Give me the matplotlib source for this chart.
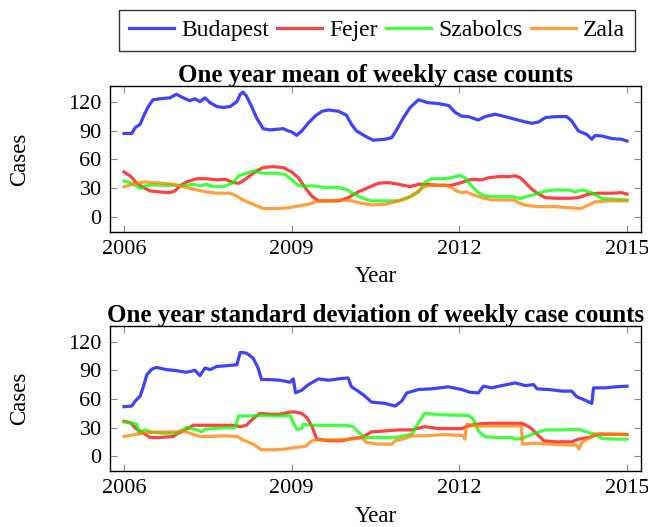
import matplotlib
matplotlib.use("Agg")
import matplotlib.pyplot as plt

plt.rcParams["font.family"] = ["Liberation Serif", "DejaVu Serif"]

regions = ["Budapest", "Fejer", "Szabolcs", "Zala"]
colors = ["#0000ff", "#ff0000", "#00ff00", "#ff8000"]

# one year mean
mean_bud_t = [2006.0, 2006.14, 2006.2, 2006.29, 2006.35, 2006.44, 2006.52, 2006.64, 2006.82, 2006.94,
              2007.06, 2007.18, 2007.27, 2007.36, 2007.45, 2007.54, 2007.66, 2007.78, 2007.90, 2008.02,
              2008.08, 2008.13, 2008.19, 2008.28, 2008.37, 2008.49, 2008.61, 2008.85, 2008.94, 2009.0,
              2009.09, 2009.18, 2009.30, 2009.42, 2009.54, 2009.66, 2009.84, 2009.98, 2010.07, 2010.16,
              2010.31, 2010.46, 2010.67, 2010.79, 2010.88, 2011.0, 2011.12, 2011.27, 2011.44, 2011.63,
              2011.81, 2011.93, 2012.04, 2012.16, 2012.34, 2012.46, 2012.64, 2012.82, 2013.0, 2013.18,
              2013.30, 2013.42, 2013.54, 2013.72, 2013.92, 2014.01, 2014.13, 2014.28, 2014.37, 2014.43,
              2014.55, 2014.73, 2014.90, 2015.0]
mean_bud_v = [87, 87, 93, 96.5, 105, 115.5, 122, 123, 124, 127.7,
              124, 121, 123, 120, 124, 119, 115, 114, 115, 120,
              127.7, 130, 126, 115.5, 103.5, 92, 90.7, 92, 89.6, 88.6,
              85, 89.6, 98, 105, 110, 111.4, 110, 106, 96.5, 89.6,
              84.4, 80, 81, 82.7, 91, 103.5, 114, 122, 119, 118,
              116, 108.7, 105, 104.5, 101, 104.5, 107, 104.5, 101.7, 99,
              97.6, 99, 103.5, 104.5, 104.5, 100, 89.6, 86, 81, 85,
              84.4, 81.7, 81, 79.2]

mean_fej_t = [2006.0, 2006.11, 2006.23, 2006.35, 2006.47, 2006.64, 2006.82, 2006.91, 2007.0, 2007.12,
              2007.30, 2007.48, 2007.66, 2007.81, 2007.96, 2008.05, 2008.13, 2008.25, 2008.37, 2008.49,
              2008.67, 2008.85, 2009.0, 2009.12, 2009.24, 2009.36, 2009.48, 2009.66, 2009.84, 2010.01,
              2010.19, 2010.37, 2010.55, 2010.73, 2010.91, 2011.12, 2011.27, 2011.44, 2011.63, 2011.86,
              2012.04, 2012.16, 2012.28, 2012.40, 2012.52, 2012.70, 2012.88, 2013.0, 2013.09, 2013.18,
              2013.30, 2013.42, 2013.54, 2013.72, 2013.96, 2014.13, 2014.31, 2014.49, 2014.73, 2014.90,
              2015.0]
mean_fej_v = [47, 43, 35.3, 30.8, 27.3, 26.3, 25.6, 27.3, 32.5, 36.7,
              40, 40, 38.8, 39.4, 36, 35.3, 37.7, 43, 48, 51.6,
              52.6, 51.6, 47, 41, 30.8, 22, 17, 17, 17, 20.4,
              26.3, 30.8, 35.3, 36, 34.3, 31.8, 34.3, 34, 33.2, 33.2,
              36, 38.8, 39.4, 38.8, 41, 42.2, 42.2, 43, 41, 36,
              29, 24, 20.4, 19.7, 19.7, 20.4, 24, 25, 25, 25.6,
              24]

mean_sza_t = [2006.0, 2006.11, 2006.23, 2006.29, 2006.38, 2006.52, 2006.70, 2006.94, 2007.12, 2007.24,
              2007.36, 2007.48, 2007.60, 2007.78, 2007.96, 2008.05, 2008.19, 2008.31, 2008.49, 2008.73,
              2008.88, 2009.0, 2009.12, 2009.24, 2009.42, 2009.60, 2009.84, 2009.98, 2010.07, 2010.25,
              2010.43, 2010.67, 2010.91, 2011.15, 2011.27, 2011.38, 2011.50, 2011.69, 2011.86, 2012.01,
              2012.10, 2012.22, 2012.34, 2012.46, 2012.70, 2012.94, 2013.09, 2013.24, 2013.42, 2013.54,
              2013.72, 2013.96, 2014.07, 2014.19, 2014.37, 2014.55, 2014.79, 2015.0]
mean_sza_v = [37.7, 36, 32.5, 29.8, 32.5, 33.6, 33.2, 33.2, 33.2, 34.3,
              32.5, 34.3, 31.8, 31.8, 36, 43, 45.7, 48, 45.7, 45.7,
              44.6, 38.8, 33.2, 32.5, 32.5, 30.8, 30.8, 29, 25.6, 20.4,
              17, 17, 17, 22, 26.3, 36, 40, 40, 41, 43.6,
              41, 32.5, 25.6, 22, 21.5, 21.5, 19.4, 22, 25, 27.3,
              28.4, 28.4, 26.3, 28.4, 25.6, 19.4, 18.7, 18]

mean_zal_t = [2006.0, 2006.17, 2006.35, 2006.52, 2006.70, 2006.88, 2007.0, 2007.12, 2007.30, 2007.48,
              2007.66, 2007.90, 2008.02, 2008.13, 2008.31, 2008.49, 2008.73, 2008.97, 2009.12, 2009.30,
              2009.48, 2009.66, 2009.90, 2010.07, 2010.25, 2010.43, 2010.67, 2010.91, 2011.09, 2011.27,
              2011.38, 2011.50, 2011.74, 2011.86, 2011.95, 2012.04, 2012.13, 2012.22, 2012.40, 2012.58,
              2012.82, 2012.97, 2013.06, 2013.18, 2013.42, 2013.72, 2013.96, 2014.17, 2014.28, 2014.43,
              2014.67, 2015.0]
mean_zal_v = [31.8, 34.3, 36.7, 36, 35.3, 34.3, 32.5, 30.8, 28.4, 26.3,
              25, 25, 22, 18, 13.5, 9, 9, 10, 11.8, 13.5,
              17, 17, 18, 17, 14.5, 12.8, 13.5, 17, 20.4, 27.3,
              31.8, 33.2, 33.2, 30.8, 27.3, 25.6, 26.3, 24, 20.4, 18,
              18, 18, 15.2, 12.5, 11, 11, 10, 9, 11.8, 16,
              17, 17]

# one year standard deviation
std_bud_t = [2006.0, 2006.14, 2006.2, 2006.29, 2006.35, 2006.41, 2006.50, 2006.58, 2006.76, 2006.94,
             2007.12, 2007.27, 2007.36, 2007.45, 2007.54, 2007.66, 2007.84, 2008.02, 2008.08, 2008.19,
             2008.31, 2008.40, 2008.46, 2008.61, 2008.79, 2008.97, 2009.03, 2009.07, 2009.18, 2009.30,
             2009.48, 2009.66, 2009.84, 2010.01, 2010.07, 2010.19, 2010.31, 2010.43, 2010.67, 2010.85,
             2010.97, 2011.06, 2011.27, 2011.50, 2011.80, 2012.04, 2012.19, 2012.34, 2012.43, 2012.58,
             2012.76, 2013.0, 2013.18, 2013.33, 2013.39, 2013.60, 2013.84, 2014.01, 2014.10, 2014.25,
             2014.37, 2014.40, 2014.61, 2014.79, 2015.0]
std_bud_v = [52, 52.6, 57.8, 63, 73.4, 85.5, 91.3, 93, 90.7, 89.6,
             87.9, 90, 84.4, 92.4, 90.7, 94, 94.8, 95.8, 108.7, 108,
             102.8, 92.4, 80.3, 80.3, 79.6, 77.5, 81, 66.4, 69.2, 75,
             81, 79.6, 81, 82, 72.7, 68.2, 63, 56.7, 55.4, 52.6,
             57.8, 66.4, 69.9, 70.6, 72.7, 69.9, 67, 66.4, 73.4, 71.6,
             74, 76.8, 74, 75, 70.6, 69.9, 68.2, 68.2, 62.3, 58.8,
             55.4, 71.6, 71.6, 72.7, 73.4]

std_fej_t = [2006.0, 2006.11, 2006.23, 2006.35, 2006.47, 2006.64, 2006.88, 2006.94, 2007.06, 2007.24,
             2007.42, 2007.66, 2007.96, 2008.08, 2008.19, 2008.31, 2008.43, 2008.61, 2008.79, 2008.97,
             2009.06, 2009.18, 2009.27, 2009.36, 2009.45, 2009.66, 2009.90, 2010.07, 2010.25, 2010.43,
             2010.67, 2010.91, 2011.15, 2011.38, 2011.63, 2011.86, 2012.04, 2012.16, 2012.28, 2012.52,
             2012.82, 2013.12, 2013.27, 2013.39, 2013.51, 2013.72, 2014.01, 2014.13, 2014.31, 2014.49,
             2014.73, 2015.0]
std_fej_v = [36.7, 35.3, 28.4, 24.2, 19.7, 19.7, 20.8, 23.2, 26.6, 32.5,
             32.5, 32.5, 32.5, 31.1, 32.5, 39.4, 45, 44, 44, 46.4,
             46.4, 45, 40.5, 31.8, 18, 16.3, 16.3, 18.7, 19.7, 25.6,
             26.6, 27.7, 27.7, 31.1, 29, 29, 29, 31.8, 33.6, 34.6,
             34.6, 34.6, 30.1, 23.2, 16.3, 15.2, 15.2, 18, 19.7, 23.2,
             23.2, 22.8]

std_sza_t = [2006.0, 2006.17, 2006.23, 2006.26, 2006.38, 2006.52, 2006.70, 2006.94, 2007.12, 2007.30,
             2007.39, 2007.45, 2007.66, 2007.99, 2008.05, 2008.25, 2008.49, 2008.73, 2008.97, 2009.03,
             2009.09, 2009.18, 2009.21, 2009.36, 2009.60, 2009.96, 2010.10, 2010.19, 2010.31, 2010.55,
             2010.85, 2011.15, 2011.27, 2011.38, 2011.63, 2012.04, 2012.16, 2012.25, 2012.34, 2012.46,
             2012.70, 2012.94, 2013.0, 2013.12, 2013.24, 2013.39, 2013.54, 2013.84, 2014.13, 2014.31,
             2014.43, 2014.55, 2014.79, 2015.0]
std_sza_v = [36, 34.6, 33.6, 25, 27.7, 25, 24.2, 24.2, 30.1, 27.7,
             25.6, 28.4, 29.4, 30.1, 42.2, 42.2, 42.9, 42.2, 42.9, 35.3,
             28.4, 29, 33.6, 32.5, 32.5, 32.5, 31.1, 25.6, 19.7, 19.7,
             19.7, 23.2, 35.3, 45, 43.6, 42.9, 42.9, 38.8, 26.6, 20.4,
             19.7, 19.7, 18, 18.7, 21.5, 25, 27.7, 27.7, 28.4, 25,
             23.2, 18.7, 18, 18]

std_zal_t = [2006.0, 2006.23, 2006.47, 2006.70, 2006.94, 2007.06, 2007.18, 2007.36, 2007.54, 2007.78,
             2008.02, 2008.13, 2008.31, 2008.46, 2008.67, 2008.88, 2009.06, 2009.24, 2009.36, 2009.48,
             2009.78, 2010.07, 2010.25, 2010.34, 2010.55, 2010.79, 2010.85, 2011.03, 2011.15, 2011.38,
             2011.74, 2011.98, 2012.07, 2012.10, 2012.13, 2012.28, 2012.52, 2012.82, 2013.11, 2013.13,
             2013.30, 2013.60, 2013.96, 2014.10, 2014.14, 2014.19, 2014.31, 2014.43, 2014.67, 2015.0]
std_zal_v = [20.8, 23.2, 25, 25.6, 25.6, 26.6, 24.2, 20.8, 20.8, 21.5,
             20.8, 17.3, 12.8, 6.9, 6.9, 7.6, 9.3, 10.4, 16.3, 17.3,
             17.3, 18, 19.7, 14.5, 12.8, 12.8, 16.3, 18.7, 21.5, 21.5,
             22.8, 22.1, 21.5, 18, 33.6, 31.8, 31.8, 31.8, 31.8, 12.8,
             13.8, 12.8, 11.8, 11.8, 7.6, 14.5, 18.7, 23.2, 23.2, 22.8]

panels = [
    ("One year mean of weekly case counts",
     [(mean_bud_t, mean_bud_v), (mean_fej_t, mean_fej_v), (mean_sza_t, mean_sza_v), (mean_zal_t, mean_zal_v)]),
    ("One year standard deviation of weekly case counts",
     [(std_bud_t, std_bud_v), (std_fej_t, std_fej_v), (std_sza_t, std_sza_v), (std_zal_t, std_zal_v)]),
]

W, H = 648, 527
fig = plt.figure(figsize=(W / 100, H / 100), dpi=100)
# axes boxes in pixels: left, top, right, bottom
boxes = [(110, 86, 641, 232), (110, 326, 641, 471)]
year_y = [277, 517]

for (title, series), (l, t, r, b), yy in zip(panels, boxes, year_y):
    ax = fig.add_axes([l / W, 1 - b / H, (r - l) / W, (b - t) / H])
    for (tt, v), name, c in zip(series, regions, colors):
        ax.plot(tt, v, color=c, alpha=0.75, linewidth=2.3, label=name)
    ax.set_xlim(2005.75, 2015.25)
    ax.set_ylim(-15.3, 136.3)
    ax.set_xticks([2006, 2009, 2012, 2015])
    ax.set_yticks([0, 30, 60, 90, 120])
    ax.tick_params(direction="in", top=True, right=True, length=5, width=0.8,
                   color="0.55", labelsize=16, pad=6)
    for s in ax.spines.values():
        s.set_linewidth(1.0)
    ax.set_title(title, fontsize=18, fontweight="bold", pad=3)
    fig.text(20 / W, 1 - (t + b) / 2 / H, "Cases", rotation=90, ha="center", va="center", fontsize=16.5)
    fig.text((l + r) / 2 / W, 1 - yy / H, "Year", ha="center", va="center", fontsize=16.5)

handles, labels = ax.get_legend_handles_labels()
leg = fig.legend(handles, labels, loc="center", bbox_to_anchor=(377 / W, 1 - 30.5 / H),
                 ncol=4, fontsize=17, frameon=True, fancybox=False, edgecolor="black",
                 handlelength=1.9, handletextpad=0.32, columnspacing=0.34, borderpad=0.4,
                 borderaxespad=0)
leg.get_frame().set_linewidth(1.0)
for h in leg.get_lines():
    h.set_alpha(0.75)

fig.savefig("out.png", dpi=100)
